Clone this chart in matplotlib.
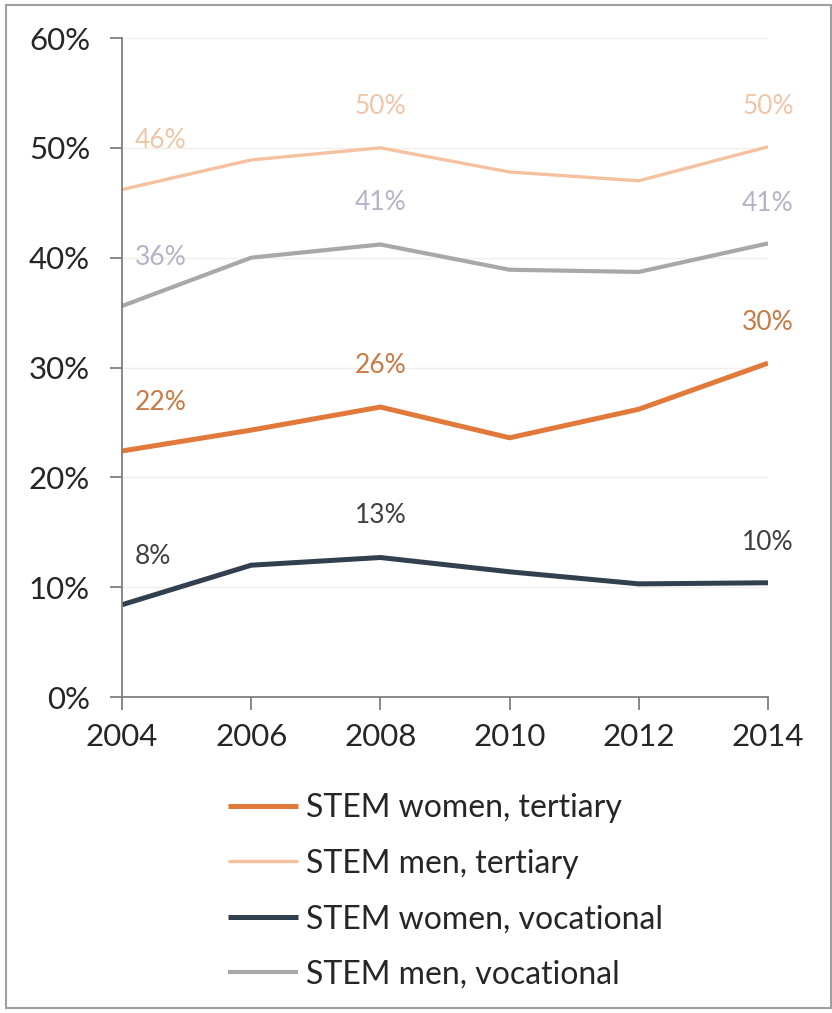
import matplotlib
matplotlib.use("Agg")
import matplotlib.pyplot as plt
from matplotlib.patches import Rectangle

plt.rcParams["font.family"] = ["Lato", "DejaVu Sans"]

years = [2004, 2006, 2008, 2010, 2012, 2014]
women_tertiary = [22.4, 24.3, 26.4, 23.6, 26.2, 30.4]
men_tertiary = [46.2, 48.9, 50.0, 47.8, 47.0, 50.1]
women_vocational = [8.4, 12.0, 12.7, 11.4, 10.3, 10.4]
men_vocational = [35.6, 40.0, 41.2, 38.9, 38.7, 41.3]
series_names = [
    "STEM women, tertiary",
    "STEM men, tertiary",
    "STEM women, vocational",
    "STEM men, vocational",
]
labelled = [0, 2, 5]  # which years get a value label

line_colors = ["#E0793A", "#F5C1A0", "#323F4F", "#A8A8A8"]
text_colors = ["#C87A45", "#EEC6A8", "#404040", "#B4B4C8"]
widths = [3.6, 2.4, 3.6, 3.0]

fig = plt.figure(figsize=(8.32, 10.13), dpi=100)
ax = fig.add_axes([122 / 832, 1 - 697 / 1013, (768 - 122) / 832, (697 - 38) / 1013])

# thin grey frame around the whole figure
fig.patches.append(Rectangle((6 / 832, 5 / 1013), 825 / 832, 1003 / 1013,
                             transform=fig.transFigure, fill=False,
                             edgecolor="#a0a0a0", linewidth=1.5))

all_series = [women_tertiary, men_tertiary, women_vocational, men_vocational]
for vals, name, lc, tc, lw in zip(all_series, series_names, line_colors, text_colors, widths):
    ax.plot(years, vals, color=lc, lw=lw, label=name, solid_capstyle="butt")
    for i in labelled:
        if i == 0:
            off, ha = (9, 35), "left"
        elif i == len(years) - 1:
            off, ha = (0, 29), "center"
        else:
            off, ha = (0, 30), "center"
        ax.annotate(f"{vals[i]:.0f}%", (years[i], vals[i]), xytext=off,
                    textcoords="offset points", ha=ha, va="center",
                    fontsize=19, color=tc)

ax.set_xlim(2004, 2014)
ax.set_ylim(0, 60)
ax.set_xticks(years)
ax.set_yticks(range(0, 61, 10))
ax.set_yticklabels([f"{v}%" for v in range(0, 61, 10)])
ax.grid(axis="y", color="#f2eeea", lw=1)
ax.set_axisbelow(True)
for s in ["top", "right"]:
    ax.spines[s].set_visible(False)
for s in ["left", "bottom"]:
    ax.spines[s].set_color("#7f7f7f")
    ax.spines[s].set_linewidth(1.3)
ax.tick_params(axis="both", colors="#7f7f7f", labelcolor="#262626",
               labelsize=22.5, length=9, width=1.3)
ax.tick_params(axis="y", pad=14)
ax.tick_params(axis="x", pad=10)

ax.legend(loc="upper left", bbox_to_anchor=(228 / 832, 1 - 793 / 1013),
          bbox_transform=fig.transFigure, frameon=False, fontsize=23,
          handlelength=2.2, handletextpad=0.25, labelspacing=0.8,
          borderaxespad=0, borderpad=0, labelcolor="#262626")

fig.savefig("out.png", dpi=100, facecolor="white")
